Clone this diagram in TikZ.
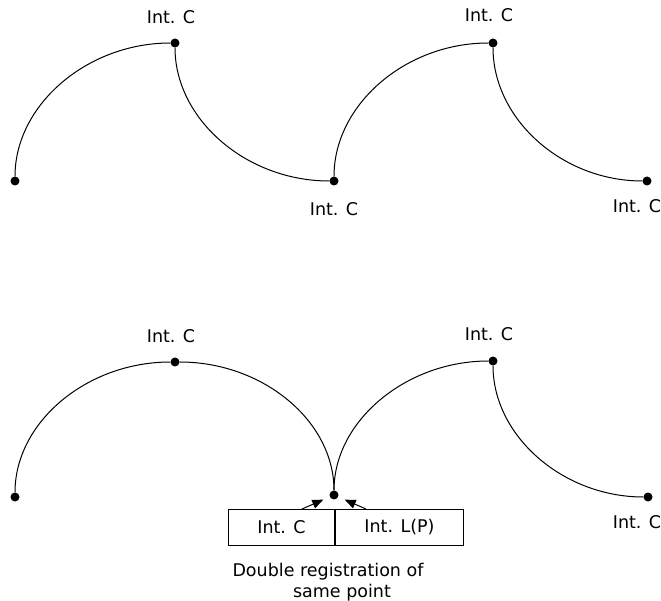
\documentclass[tikz,border=0pt]{standalone}
\usepackage{fontspec}
\setmainfont{DejaVu Sans}
\usetikzlibrary{arrows.meta}
\begin{document}
\begin{tikzpicture}[x=1pt,y=-1pt,
  pt/.style={circle,fill=black,inner sep=0pt,minimum size=9pt},
  lbl/.style={anchor=base,inner sep=0pt,font=\fontsize{17.5}{20}\selectfont},
  curve/.style={line width=1pt},
  cell/.style={draw,line width=1pt,minimum height=36pt,inner sep=0pt,anchor=west,font=\fontsize{17.5}{20}\selectfont},
  arr/.style={line width=1pt,-{Triangle[length=11pt,width=9pt]},shorten >=7pt}]
\useasboundingbox (0,0) rectangle (661,601);
% top row
\node[pt] (a1) at (15,181) {};
\node[pt] (a2) at (175,43) {};
\node[pt] (a3) at (334,181) {};
\node[pt] (a4) at (493,43) {};
\node[pt] (a5) at (647,181) {};
\draw[curve] (a1) .. controls +(0,-76) and +(-88,0) .. (a2);
\draw[curve] (a2) .. controls +(0,76) and +(-88,0) .. (a3);
\draw[curve] (a3) .. controls +(0,-76) and +(-88,0) .. (a4);
\draw[curve] (a4) .. controls +(0,76) and +(-85,0) .. (a5);
\node[lbl] (la2) at (171,24) {Int. C};
\node[lbl] (la4) at (489,22) {Int. C};
\node[lbl] (la3) at (334,216) {Int. C};
\node[lbl] (la5) at (637,213) {Int. C};
% bottom row
\node[pt] (b1) at (15,497) {};
\node[pt] (b2) at (175,362) {};
\node[pt] (b3) at (334,495) {};
\node[pt] (b4) at (493,361) {};
\node[pt] (b5) at (648,497) {};
\draw[curve] (b1) .. controls +(0,-75) and +(-88,0) .. (b2);
\draw[curve] (b2) .. controls +(88,0) and +(0,-74) .. (b3);
\draw[curve] (b3) .. controls +(0,-74) and +(-87,0) .. (b4);
\draw[curve] (b4) .. controls +(0,75) and +(-85,0) .. (b5);
\node[lbl] (lb2) at (171,343) {Int. C};
\node[lbl] (lb4) at (489,341) {Int. C};
\node[lbl] (lb5) at (637,528) {Int. C};
% double registration box
\node[cell,minimum width=106pt] (cc) at (228,527) {Int. C\hspace{12pt}};
\node[cell,minimum width=128pt] (cl) at (cc.east) {Int. L(P)\hspace{14pt}};
\coordinate (sl) at (302,509);
\coordinate (sr) at (366,509);
\draw[arr] (sl) -- (b3);
\draw[arr] (sr) -- (b3);
\node[lbl] (d1) at (328,576) {Double registration of};
\node[lbl] (d2) at (342,597) {same point};
\end{tikzpicture}
\end{document}
